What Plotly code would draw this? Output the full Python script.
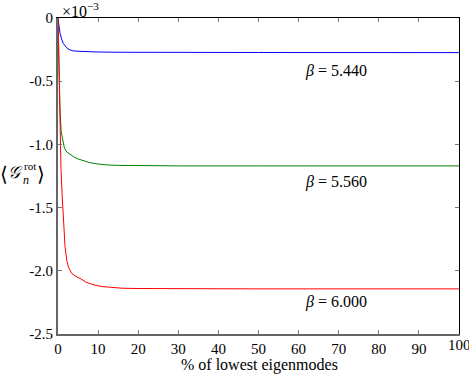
import plotly.graph_objs as go

# values in units of 1e-3
x_544 = [0, 0.2, 0.5, 0.9, 1.3, 1.75, 2.5, 3.2, 3.8, 5, 6, 8, 10, 15, 20, 30, 50, 100]
y_544 = [0, -0.06, -0.12, -0.167, -0.2, -0.22, -0.245, -0.255, -0.26, -0.263,
         -0.265, -0.267, -0.269, -0.271, -0.272, -0.273, -0.273, -0.274]

x_556 = [0, 0.15, 0.3, 0.5, 0.8, 1.2, 1.6, 2.2, 3, 4, 5, 6.3, 8, 10, 12, 15, 20, 30, 50, 100]
y_556 = [0, -0.25, -0.5, -0.72, -0.9, -0.98, -1.03, -1.06, -1.08, -1.10, -1.115,
         -1.13, -1.145, -1.155, -1.162, -1.166, -1.168, -1.17, -1.17, -1.17]

x_600 = [0, 0.2, 0.4, 0.6, 0.75, 1.0, 1.2, 1.5, 1.75, 2.2, 2.6, 3.4, 4.5, 5.5, 7,
         8.8, 11, 13, 16, 20, 30, 50, 100]
y_600 = [0, -0.35, -0.75, -1.05, -1.2, -1.38, -1.5, -1.68, -1.81, -1.92, -1.97,
         -2.02, -2.045, -2.06, -2.09, -2.11, -2.125, -2.13, -2.138, -2.14, -2.142,
         -2.143, -2.143]

series = [
    ('5.440', x_544, y_544, '#0000ff', -0.42),
    ('5.560', x_556, y_556, '#008000', -1.30),
    ('6.000', x_600, y_600, '#ff0000', -2.245),
]

x_ticks = list(range(0, 101, 10))
y_ticks = [0, -0.5, -1.0, -1.5, -2.0, -2.5]
y_tick_text = ['0', '-0.5', '-1.0', '-1.5', '-2.0', '-2.5']

W, H = 469, 374
M = dict(l=58, r=10, t=18, b=40)
FONT = 'Liberation Serif, Times New Roman, serif'


def px(x, y):
    pw = W - M['l'] - M['r']
    ph = H - M['t'] - M['b']
    return (x - M['l']) / pw, (H - M['b'] - y) / ph


fig = go.Figure()
for name, xs, ys, color, label_y in series:
    fig.add_trace(go.Scatter(x=xs, y=ys, mode='lines', name=name,
                             line=dict(color=color, width=1), showlegend=False))
    fig.add_annotation(x=69.3, y=label_y, text='<i>β</i> = ' + name,
                       showarrow=False, font=dict(size=16, family=FONT, color='black'))

# invisible trace to drive the mirrored top/right axes
fig.add_trace(go.Scatter(x=[0, 100], y=[0, -2.5], xaxis='x2', yaxis='y2',
                         mode='none', showlegend=False, hoverinfo='skip'))

axis_common = dict(ticks='inside', ticklen=4, tickcolor='#777', zeroline=False,
                   showgrid=False, tickfont=dict(size=15, family=FONT, color='black'))
fig.update_layout(
    width=W, height=H, margin=M,
    paper_bgcolor='white', plot_bgcolor='white',
    font=dict(family=FONT, color='black'),
    xaxis=dict(range=[0, 100], tickvals=x_ticks[:-1], showline=True, linecolor='#666',
               linewidth=2, **axis_common),
    yaxis=dict(range=[-2.5, 0], tickvals=y_ticks, ticktext=y_tick_text, showline=True,
               linecolor='#666', linewidth=2, **axis_common),
    xaxis2=dict(range=[0, 100], tickvals=x_ticks, overlaying='x', side='top',
                showticklabels=False, showline=True, linecolor='black', linewidth=1,
                **axis_common),
    yaxis2=dict(range=[-2.5, 0], tickvals=y_ticks, overlaying='y', side='right',
                showticklabels=False, showline=True, linecolor='black', linewidth=1,
                **axis_common),
)

# last x tick label sits partly outside the figure, as in the reference
fig.add_annotation(x=x_ticks[-1], y=-2.5, yref='y', text=str(x_ticks[-1]),
                   showarrow=False, yanchor='top', yshift=-1,
                   font=dict(size=15, family=FONT, color='black'))

# axis title, multiplier and y-axis label
pieces = [
    ('% of lowest eigenmodes', 259, 365, 16),
    ('×10<sup>−3</sup>', 80, 10, 16),
    ('⟨', 4, 174, 20),
    ('<i>𝒢</i>', 15, 172, 17),
    ('rot', 30, 166, 11),
    ('<i>n</i>', 26, 180, 12),
    ('⟩', 41, 174, 20),
]
for text, x, y, size in pieces:
    xp, yp = px(x, y)
    fig.add_annotation(x=xp, y=yp, xref='paper', yref='paper', text=text,
                       showarrow=False, xanchor='center', yanchor='middle',
                       font=dict(size=size, family=FONT, color='black'))

fig.write_html('out.html', config=dict(displayModeBar=False),
               post_script="document.body.style.margin = '0';")
